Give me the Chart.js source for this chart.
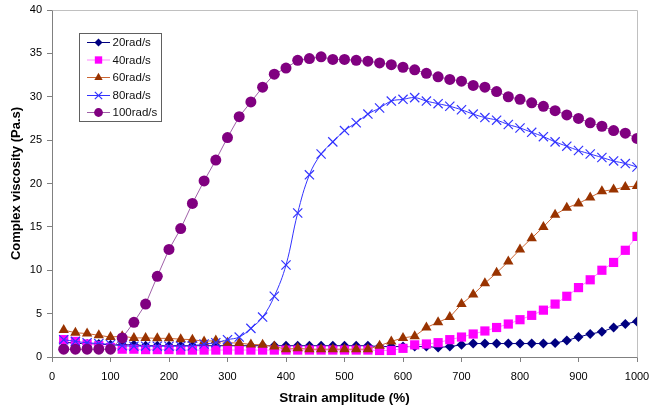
<!DOCTYPE html>
<html>
<head>
<meta charset="utf-8">
<script src="https://cdn.jsdelivr.net/npm/chart.js@4/dist/chart.umd.min.js"></script>
<style>
html,body{margin:0;padding:0;background:#fff;}
#wrap{width:649px;height:412px;position:relative;}
</style>
</head>
<body>
<div id="wrap"><canvas id="c" width="649" height="412"></canvas></div>
<script>
const strain = [20,40,60,80,100,120,140,160,180,200,220,240,260,280,300,320,340,360,380,400,420,440,460,480,500,520,540,560,580,600,620,640,660,680,700,720,740,760,780,800,820,840,860,880,900,920,940,960,980,1000];

const rad20 = [1.7,1.6,1.5,1.5,1.4,1.4,1.4,1.3,1.3,1.3,1.3,1.3,1.3,1.3,1.3,1.3,1.3,1.3,1.3,1.3,1.3,1.3,1.3,1.3,1.3,1.3,1.3,1.2,1.2,1.2,1.2,1.2,1.1,1.2,1.4,1.55,1.55,1.55,1.55,1.55,1.55,1.55,1.6,1.9,2.3,2.65,2.9,3.4,3.8,4.1];
const rad40 = [2.0,1.8,1.5,1.3,1.1,0.9,0.9,0.85,0.85,0.85,0.8,0.8,0.8,0.8,0.8,0.8,0.8,0.8,0.8,0.8,0.8,0.8,0.8,0.8,0.8,0.8,0.8,0.75,0.75,1.0,1.4,1.5,1.65,2.0,2.3,2.65,3.0,3.4,3.8,4.3,4.8,5.4,6.1,7.0,8.0,8.9,10.0,10.9,12.3,13.9];
const rad60 = [3.1,2.8,2.7,2.5,2.3,2.4,2.2,2.2,2.15,2.15,2.05,2.0,1.8,1.9,1.65,1.6,1.45,1.4,1.2,0.9,1.0,0.9,0.9,0.9,0.9,0.9,0.9,1.3,1.8,2.2,2.4,3.4,4.0,4.6,6.1,7.2,8.5,9.7,11.0,12.4,13.7,15.0,16.4,17.2,17.7,18.4,19.1,19.3,19.6,19.7];
const rad80 = [2.0,1.8,1.65,1.55,1.45,1.3,1.25,1.25,1.25,1.25,1.25,1.3,1.5,1.65,2.0,2.3,3.3,4.6,7.0,10.6,16.6,21.0,23.4,24.8,26.1,27.0,28.0,28.7,29.5,29.7,29.9,29.5,29.2,28.9,28.5,28.0,27.6,27.3,26.8,26.4,25.9,25.4,24.8,24.3,23.8,23.4,23.0,22.6,22.3,21.9];
const rad100 = [0.9,0.9,0.9,0.9,0.9,2.2,4.0,6.1,9.3,12.4,14.8,17.7,20.3,22.7,25.3,27.7,29.4,31.1,32.6,33.3,34.2,34.4,34.6,34.3,34.3,34.2,34.1,33.9,33.7,33.4,33.1,32.7,32.3,32.0,31.8,31.3,31.1,30.6,30.0,29.7,29.3,28.9,28.4,27.9,27.5,27.0,26.6,26.1,25.8,25.2];

const seriesNames = ['20rad/s','40rad/s','60rad/s','80rad/s','100rad/s'];
const xTicks = [0,100,200,300,400,500,600,700,800,900,1000];
const yTicks = [0,5,10,15,20,25,30,35,40];

const FONT = "'Liberation Sans', Arial, sans-serif";

function pts(arr){ return arr.map((v,i)=>({x:strain[i], y:v})); }

const styles = [
  {line:'#000080', fill:'#000080', shape:'rectRot', r:5, tension:0},
  {line:'#FF88FF', fill:'#FF00FF', shape:'rect', r:6.5, tension:0},
  {line:'#CC6633', fill:'#993300', shape:'triangle', r:6, tension:0},
  {line:'#3333FF', fill:'#3333FF', shape:'crossRot', r:6.5, tension:0.4},
  {line:'#A060A8', fill:'#800080', shape:'circle', r:5.5, tension:0}
];
const values = [rad20, rad40, rad60, rad80, rad100];

const datasets = values.map((arr, i) => {
  const s = styles[i];
  return {
    label: seriesNames[i],
    data: pts(arr),
    borderColor: s.line,
    borderWidth: 1,
    backgroundColor: s.fill,
    pointStyle: s.shape,
    pointRadius: s.r,
    pointBackgroundColor: s.fill,
    pointBorderColor: s.fill,
    pointBorderWidth: s.shape === 'crossRot' ? 1.2 : 0,
    tension: s.tension,
    order: 5 - i
  };
});

const frame = {
  id: 'frame',
  beforeDatasetsDraw(chart){
    const a = chart.chartArea, ctx = chart.ctx;
    ctx.save();
    ctx.strokeStyle = '#c0c0c0';
    ctx.lineWidth = 1;
    ctx.beginPath();
    ctx.moveTo(Math.round(a.left)+0.5, Math.round(a.top)+0.5);
    ctx.lineTo(Math.round(a.right)+0.5, Math.round(a.top)+0.5);
    ctx.lineTo(Math.round(a.right)+0.5, Math.round(a.bottom)+0.5);
    ctx.stroke();
    ctx.restore();
  },
  afterDraw(chart){
    const ctx = chart.ctx;
    ctx.save();
    const bx = 79.5, by = 33.5, bw = 82, bh = 88;
    ctx.fillStyle = '#ffffff';
    ctx.fillRect(bx, by, bw, bh);
    ctx.strokeStyle = '#606060';
    ctx.lineWidth = 1;
    ctx.strokeRect(bx, by, bw, bh);
    const rows = [42.5, 60, 77.5, 95.5, 112.5];
    chart.data.datasets.forEach((ds, i) => {
      const y = rows[i];
      ctx.strokeStyle = ds.borderColor;
      ctx.lineWidth = 1;
      ctx.beginPath();
      ctx.moveTo(87, y);
      ctx.lineTo(110, y);
      ctx.stroke();
      const st = styles[i];
      ctx.fillStyle = st.fill;
      ctx.strokeStyle = st.fill;
      ctx.lineWidth = st.shape === 'crossRot' ? 1.2 : 0.01;
      Chart.helpers.drawPoint(ctx, {pointStyle: st.shape, radius: st.r * 0.8, rotation: 0, borderWidth: ctx.lineWidth}, 98.5, y);
      ctx.fillStyle = '#111';
      ctx.font = '11.5px ' + FONT;
      ctx.textBaseline = 'middle';
      ctx.textAlign = 'left';
      ctx.fillText(ds.label, 112.5, y + 0.5);
    });
    ctx.restore();
  }
};

new Chart(document.getElementById('c'), {
  type: 'line',
  data: { datasets },
  plugins: [frame],
  options: {
    responsive: false,
    animation: false,
    layout: { padding: { left: 0, right: 12, top: 10, bottom: 0 } },
    plugins: { legend: { display: false }, tooltip: { enabled: false } },
    scales: {
      x: {
        type: 'linear',
        min: 0, max: 1000,
        afterBuildTicks(scale){ scale.ticks = xTicks.map(v => ({value: v})); },
        afterFit(scale){ scale.height = 55; scale.paddingRight = 0; scale.paddingLeft = 0; },
        grid: { display: true, drawOnChartArea: false, drawTicks: true, tickLength: 5, color: '#808080', lineWidth: 1 },
        border: { display: true, color: '#808080', width: 1 },
        ticks: { color: '#000', font: { family: FONT, size: 11 }, padding: 8, maxRotation: 0, autoSkip: false, callback: v => String(v) },
        title: { display: true, text: 'Strain amplitude (%)', color: '#000', font: { family: FONT, size: 13.5, weight: 'bold' }, padding: { top: 4, bottom: 6 } }
      },
      y: {
        type: 'linear',
        min: 0, max: 40,
        afterBuildTicks(scale){ scale.ticks = yTicks.map(v => ({value: v})); },
        afterFit(scale){ scale.width = 52; scale.paddingTop = 0; scale.paddingBottom = 0; },
        grid: { display: true, drawOnChartArea: false, drawTicks: true, tickLength: 5, color: '#808080', lineWidth: 1 },
        border: { display: true, color: '#808080', width: 1 },
        ticks: { color: '#000', font: { family: FONT, size: 11 }, padding: 5, autoSkip: false, callback: v => String(v) },
        title: { display: true, text: 'Complex viscosity (Pa.s)', color: '#000', font: { family: FONT, size: 13, weight: 'bold' }, padding: { top: 9, bottom: 4 } }
      }
    }
  }
});
</script>
</body>
</html>
